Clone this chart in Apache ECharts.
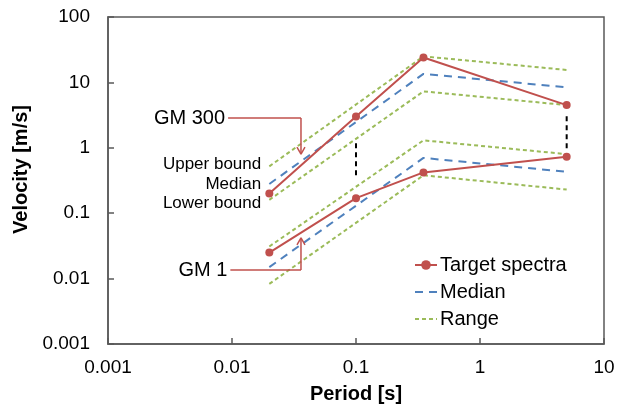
<!DOCTYPE html>
<html>
<head>
<meta charset="utf-8">
<script src="https://cdn.jsdelivr.net/npm/echarts@6/dist/echarts.min.js"></script>
<style>
  html, body { margin: 0; padding: 0; background: #fff; }
  #chart { width: 630px; height: 412px; }
</style>
</head>
<body>
<div id="chart"></div>
<script>
// periods [s]
const periods = [0.02, 0.1, 0.35, 5];
const boundPeriods = [0.02, 0.35, 5];

// GM 300
const gm300Target = [0.2, 3.0, 24, 4.5];
const gm300Median = [0.28, 13.5, 8.4];
const gm300Upper = [0.52, 25, 15.5];
const gm300Lower = [0.16, 7.3, 4.5];

// GM 1
const gm1Target = [0.025, 0.17, 0.42, 0.73];
const gm1Median = [0.015, 0.7, 0.43];
const gm1Upper = [0.031, 1.3, 0.8];
const gm1Lower = [0.0083, 0.38, 0.23];

// black dashed gaps [period, from, to]
const gapLines = [
  [0.1, 0.38, 1.22],
  [5, 0.98, 3.2]
];

const RED = "#C0504D";
const BLUE = "#4F81BD";
const GREEN = "#9BBB59";
const FONT = "Liberation Sans, Arial, sans-serif";

function pairs(xs, ys) {
  return xs.map((x, i) => [x, ys[i]]);
}

function targetSeries(ys) {
  return {
    name: "Target spectra",
    type: "line",
    data: pairs(periods, ys),
    symbol: "circle",
    symbolSize: 8,
    lineStyle: { color: RED, width: 2 },
    itemStyle: { color: RED },
    z: 5
  };
}

function medianSeries(ys) {
  return {
    name: "Median",
    type: "line",
    data: pairs(boundPeriods, ys),
    symbol: "none",
    lineStyle: { color: BLUE, width: 2, type: [8, 6] },
    itemStyle: { color: BLUE },
    z: 4
  };
}

function rangeSeries(ys) {
  return {
    name: "Range",
    type: "line",
    data: pairs(boundPeriods, ys),
    symbol: "none",
    lineStyle: { color: GREEN, width: 2, type: [4, 3] },
    itemStyle: { color: GREEN },
    z: 3
  };
}

const gapSeries = gapLines.map(g => ({
  name: "gap",
  type: "line",
  data: [[g[0], g[1]], [g[0], g[2]]],
  symbol: "none",
  lineStyle: { color: "#000", width: 2, type: [5, 4] },
  z: 2
}));

function fmt(v) {
  return v >= 1 ? String(Math.round(v)) : Number(v.toPrecision(1)).toString();
}

const chart = echarts.init(document.getElementById("chart"));

const option = {
  animation: false,
  textStyle: { fontFamily: FONT },
  grid: {
    left: 108, right: 26, top: 17, bottom: 68,
    show: true, borderColor: "#595959", borderWidth: 1.5
  },
  xAxis: {
    type: "log",
    logBase: 10,
    min: 0.001,
    max: 10,
    name: "Period [s]",
    nameLocation: "middle",
    nameGap: 40,
    nameTextStyle: { fontFamily: FONT, fontSize: 20, fontWeight: "bold", color: "#000" },
    axisLine: { lineStyle: { color: "#595959", width: 1.5 } },
    axisTick: { inside: true, length: 6, lineStyle: { color: "#595959", width: 1.5 } },
    axisLabel: { fontFamily: FONT, fontSize: 19, color: "#000", margin: 14, formatter: fmt },
    splitLine: { show: false },
    minorTick: { show: false }
  },
  yAxis: {
    type: "log",
    logBase: 10,
    min: 0.001,
    max: 100,
    name: "Velocity [m/s]",
    nameLocation: "middle",
    nameGap: 72,
    nameTextStyle: { fontFamily: FONT, fontSize: 20, fontWeight: "bold", color: "#000", padding: [0, 0, 0, 22] },
    axisLine: { lineStyle: { color: "#595959", width: 1.5 } },
    axisTick: { inside: true, length: 6, lineStyle: { color: "#595959", width: 1.5 } },
    axisLabel: { fontFamily: FONT, fontSize: 19, color: "#000", margin: 18, formatter: fmt },
    splitLine: { show: false }
  },
  legend: {
    data: [
      { name: "Target spectra" },
      { name: "Median", itemStyle: { opacity: 0 }, lineStyle: { type: [8, 6] } },
      { name: "Range", itemStyle: { opacity: 0 }, lineStyle: { type: [4, 3] } }
    ],
    orient: "vertical",
    left: 409,
    top: 250,
    itemWidth: 22,
    itemHeight: 12,
    itemGap: 7,
    textStyle: { fontFamily: FONT, fontSize: 20, color: "#000", padding: [0, 0, 0, -2] }
  },
  series: [
    rangeSeries(gm300Upper),
    rangeSeries(gm300Lower),
    rangeSeries(gm1Upper),
    rangeSeries(gm1Lower),
    medianSeries(gm300Median),
    medianSeries(gm1Median),
    targetSeries(gm300Target),
    targetSeries(gm1Target),
    ...gapSeries
  ]
};

chart.setOption(option);

// annotations placed in data coordinates
function px(x, y) {
  return chart.convertToPixel({ gridIndex: 0 }, [x, y]);
}

function seg(p, q) {
  return {
    type: "line",
    shape: { x1: p[0], y1: p[1], x2: q[0], y2: q[1] },
    style: { stroke: RED, lineWidth: 1.5 },
    z: 10
  };
}

function arrow(textStr, textAt, cornerX, tipY) {
  const a = px(textAt[0], textAt[1]);
  const c = px(cornerX, textAt[1]);
  const t = px(cornerX, tipY);
  const dir = t[1] > c[1] ? 1 : -1;
  return [
    {
      type: "text",
      style: {
        text: textStr, x: a[0] - 3, y: a[1],
        align: "right", verticalAlign: "middle",
        font: "20px " + FONT, fill: "#000"
      }
    },
    seg(a, c),
    seg(c, t),
    seg([t[0] - 4, t[1] - dir * 7], t),
    seg([t[0] + 4, t[1] - dir * 7], t)
  ];
}

function label(textStr, x, y) {
  const p = px(x, y);
  return {
    type: "text",
    style: {
      text: textStr, x: p[0], y: p[1],
      align: "right", verticalAlign: "middle",
      font: "17px " + FONT, fill: "#000"
    }
  };
}

chart.setOption({
  graphic: [
    ...arrow("GM 300", [0.0093, 2.85], 0.036, 0.8),
    ...arrow("GM 1", [0.0097, 0.0135], 0.036, 0.042),
    label("Upper bound", 0.0172, 0.55),
    label("Median", 0.0172, 0.28),
    label("Lower bound", 0.0172, 0.142)
  ]
});
</script>
</body>
</html>
